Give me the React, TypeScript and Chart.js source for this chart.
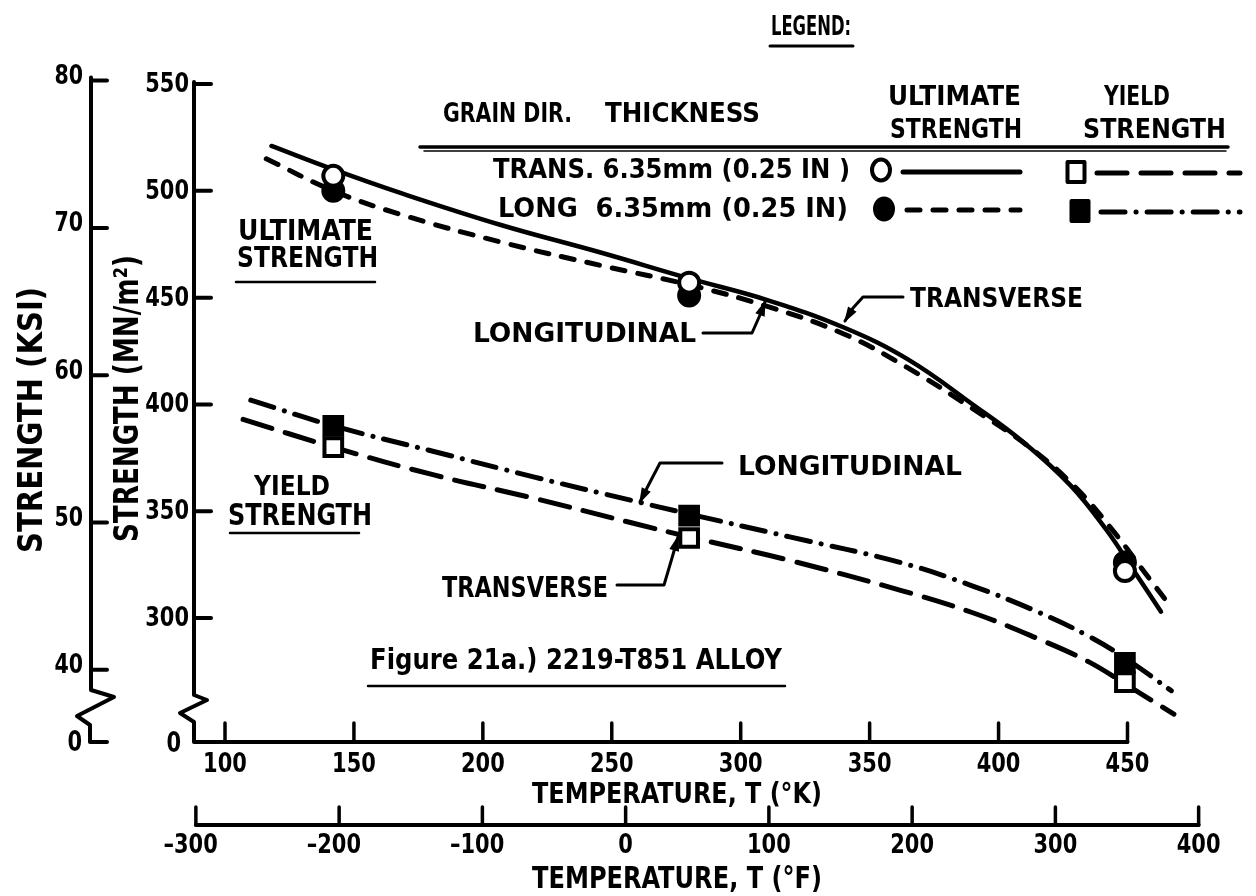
import React, { useEffect, useRef } from "react";
import { Chart, registerables } from "chart.js";
Chart.register(...registerables);

const FONT = '"DejaVu Sans Condensed", "DejaVu Sans", sans-serif';

// ---------- data (temperature in K, strength in MN/m^2) ----------
const markerTempK = [142, 280, 449];
const ultTransMarks = [507, 457, 322];
const ultLongMarks = [500, 451, 326];
const yieldTransMarks = [380, 337.5, 270];
const yieldLongMarks = [390, 348, 279];

const ultTransCurveK = [118, 142, 168, 207, 246, 280, 310, 340, 365, 390, 410, 428, 442, 452, 463];
const ultTransCurveV = [521, 510, 499, 484, 471, 459, 449, 436, 421, 400, 382, 362, 341, 323, 303];

const ultLongCurveK = [116, 142, 168, 207, 246, 280, 310, 340, 365, 390, 412, 430, 445, 455, 467];
const ultLongCurveV = [515, 500, 489, 476, 465, 456, 446, 433, 417, 398, 380, 361, 340, 324, 305];

const yieldLongCurveK = [110, 142, 181, 220, 258, 279, 319, 362, 390, 415, 435, 450, 467];
const yieldLongCurveV = [402, 390, 378, 366, 355, 349, 338, 326, 315, 303, 291.5, 280.5, 266];

const yieldTransCurveK = [107, 142, 181, 220, 258, 280, 319, 362, 390, 415, 435, 450, 468];
const yieldTransCurveV = [393, 380, 367, 356, 344.5, 338, 327, 313, 302.5, 290.5, 279.5, 268.5, 255];

const mnTicks = [300, 350, 400, 450, 500, 550];
const ksiTicks = [40, 50, 60, 70, 80];
const kTicks = [100, 150, 200, 250, 300, 350, 400, 450];
const fTicks = [-300, -200, -100, 0, 100, 200, 300, 400];

// unit conversions for the secondary axes
const fToK = (f: number) => (f - 32) / 1.8 + 273.15;
const ksiToMN = (k: number) => k * 6.894757;

// ---------- styles ----------
const DASH_ULT_LONG = [13, 13];
const DASH_YIELD_TRANS = [30, 14];
const DASH_YIELD_LONG = [24, 11, 0.1, 11];

function fit(ctx: CanvasRenderingContext2D, s: string, x0: number, x1: number, top: number, base: number) {
  const h = base - top;
  const size = h / 0.73;
  ctx.font = `bold ${size}px ${FONT}`;
  const w = ctx.measureText(s).width;
  ctx.save();
  ctx.translate(x0, base);
  ctx.scale((x1 - x0) / w, 1);
  ctx.textAlign = "left";
  ctx.textBaseline = "alphabetic";
  ctx.fillText(s, 0, 0);
  ctx.restore();
}

function num(ctx: CanvasRenderingContext2D, s: string, anchorX: number, cy: number, h: number, align: string, digitW: number) {
  const size = h / 0.73;
  ctx.font = `bold ${size}px ${FONT}`;
  const ref = ctx.measureText("000").width / 3;
  const sx = digitW / ref;
  const w = ctx.measureText(s).width * sx;
  const digits = s.replace("–", "");
  const dw = ctx.measureText(digits).width * sx;
  let x0 = anchorX;
  if (align === "right") x0 = anchorX - w;
  else if (align === "center") x0 = anchorX - dw / 2 - (w - dw);
  ctx.save();
  ctx.translate(x0, cy + h / 2);
  ctx.scale(sx, 1);
  ctx.textAlign = "left";
  ctx.textBaseline = "alphabetic";
  ctx.fillText(s, 0, 0);
  ctx.restore();
}

function line(ctx: CanvasRenderingContext2D, pts: number[][], w: number, dash: number[] = []) {
  ctx.save();
  ctx.lineWidth = w;
  ctx.setLineDash(dash);
  ctx.beginPath();
  pts.forEach((p, i) => (i ? ctx.lineTo(p[0], p[1]) : ctx.moveTo(p[0], p[1])));
  ctx.stroke();
  ctx.restore();
}

function arrow(ctx: CanvasRenderingContext2D, pts: number[][]) {
  line(ctx, pts, 3);
  const a = pts[pts.length - 2];
  const b = pts[pts.length - 1];
  const ang = Math.atan2(b[1] - a[1], b[0] - a[0]);
  const L = 14, W = 5;
  ctx.save();
  ctx.translate(b[0], b[1]);
  ctx.rotate(ang);
  ctx.beginPath();
  ctx.moveTo(2, 0);
  ctx.lineTo(-L, -W);
  ctx.lineTo(-L, W);
  ctx.closePath();
  ctx.fill();
  ctx.restore();
}

function marker(ctx: CanvasRenderingContext2D, kind: string, filled: boolean, x: number, y: number) {
  ctx.save();
  ctx.lineWidth = 4;
  ctx.fillStyle = filled ? "#000" : "#fff";
  ctx.beginPath();
  if (kind === "circle") ctx.ellipse(x, y, 9, 10.5, 0, 0, Math.PI * 2);
  else ctx.rect(x - 8.5, y - 10, 17, 20);
  ctx.fill();
  ctx.stroke();
  ctx.restore();
}

const decor = {
  id: "decor",
  afterDraw(chart: any) {
    const ctx: CanvasRenderingContext2D = chart.ctx;
    const { left, bottom } = chart.chartArea;
    const xs = chart.scales.x;
    const ys = chart.scales.y;
    const X = (v: number) => xs.getPixelForValue(v);
    const Y = (v: number) => ys.getPixelForValue(v);
    ctx.save();
    ctx.fillStyle = "#000";
    ctx.strokeStyle = "#000";
    ctx.lineCap = "round";
    ctx.lineJoin = "round";

    // ---- MN/m^2 axis + K axis ----
    const ax = left + 2;
    line(ctx, [
      [ax, Y(550) - 2], [ax, bottom - 47], [ax + 13, bottom - 42], [ax - 14, bottom - 29],
      [ax, bottom - 20], [ax, bottom], [X(450), bottom],
    ], 4);
    mnTicks.forEach((v) => {
      line(ctx, [[ax, Y(v)], [ax + 17, Y(v)]], 4);
      num(ctx, String(v), ax - 5, Y(v) - 2, 20, "right", 14.6);
    });
    num(ctx, "0", ax - 13, bottom - 1, 21, "right", 14.6);
    kTicks.forEach((k) => {
      line(ctx, [[X(k), bottom], [X(k), bottom - 19]], 3.5);
      num(ctx, String(k), X(k), bottom + 20, 20, "center", 14.6);
    });

    // ---- KSI axis ----
    const kx = 91;
    line(ctx, [
      [kx, Y(ksiToMN(80)) - 3], [kx, bottom - 52], [kx + 23, bottom - 45], [kx - 14, bottom - 26],
      [kx - 1, bottom - 17], [kx - 1, bottom], [kx + 16, bottom],
    ], 4);
    ksiTicks.forEach((v) => {
      line(ctx, [[kx, Y(ksiToMN(v))], [kx + 16, Y(ksiToMN(v))]], 4);
      num(ctx, String(v), kx - 8, Y(ksiToMN(v)) - 6, 19, "right", 14.3);
    });
    num(ctx, "0", kx - 9, bottom - 2, 21, "right", 14.6);

    // ---- °F axis ----
    const fy = bottom + 83;
    line(ctx, [[X(fToK(-300)), fy], [X(fToK(400)), fy]], 4);
    fTicks.forEach((f) => {
      line(ctx, [[X(fToK(f)), fy], [X(fToK(f)), fy - 18]], 3.5);
      num(ctx, f < 0 ? "–" + String(-f) : String(f), X(fToK(f)), fy + 18, 20, "center", 14.6);
    });

    // ---- axis titles ----
    fit(ctx, "TEMPERATURE, T (°K)", 532, 822, 782, 803);
    fit(ctx, "TEMPERATURE, T (°F)", 532, 822, 866, 888);
    ctx.save();
    ctx.translate(42, 553);
    ctx.rotate(-Math.PI / 2);
    fit(ctx, "STRENGTH (KSI)", 0, 553 - 287, -24, 0);
    ctx.restore();
    ctx.save();
    ctx.translate(138, 542);
    ctx.rotate(-Math.PI / 2);
    fit(ctx, "STRENGTH (MN/m²)", 0, 542 - 255, -25, 0);
    ctx.restore();

    // ---- legend ----
    fit(ctx, "LEGEND:", 771, 851, 15, 35);
    line(ctx, [[770, 46], [853, 46]], 3);
    fit(ctx, "GRAIN DIR.", 443, 572, 102, 122);
    fit(ctx, "THICKNESS", 605, 760, 102, 122);
    fit(ctx, "ULTIMATE", 888, 1021, 85, 105);
    fit(ctx, "STRENGTH", 890, 1022, 118, 138);
    fit(ctx, "YIELD", 1104, 1170, 85, 105);
    fit(ctx, "STRENGTH", 1083, 1226, 118, 138);
    line(ctx, [[420, 147], [1228, 147]], 3.5);
    line(ctx, [[424, 151], [1226, 151]], 1.5);
    fit(ctx, "TRANS. 6.35mm (0.25 IN )", 493, 850, 158, 178);
    fit(ctx, "LONG  6.35mm (0.25 IN)", 498, 848, 197, 217);
    marker(ctx, "circle", false, 881, 170);
    line(ctx, [[903, 172], [1020, 172]], 5);
    marker(ctx, "rect", false, 1076, 172);
    line(ctx, [[1097, 173], [1240, 173]], 5, DASH_YIELD_TRANS);
    marker(ctx, "circle", true, 884, 209);
    line(ctx, [[907, 210], [1020, 210]], 5, DASH_ULT_LONG);
    marker(ctx, "rect", true, 1080, 211);
    line(ctx, [[1101, 212], [1240, 212]], 5, DASH_YIELD_LONG);

    // ---- annotations ----
    fit(ctx, "ULTIMATE", 238, 373, 219, 240);
    fit(ctx, "STRENGTH", 237, 378, 246, 267);
    line(ctx, [[236, 282], [375, 282]], 2.5);
    fit(ctx, "YIELD", 254, 330, 475, 495);
    fit(ctx, "STRENGTH", 228, 372, 503, 525);
    line(ctx, [[230, 533], [359, 533]], 2.5);
    fit(ctx, "LONGITUDINAL", 473, 696, 322, 342);
    arrow(ctx, [[703, 333], [752, 333], [760, 315], [765, 302]]);
    fit(ctx, "TRANSVERSE", 910, 1083, 287, 307);
    arrow(ctx, [[903, 297], [863, 297], [853, 308], [845, 321]]);
    fit(ctx, "LONGITUDINAL", 738, 962, 455, 475);
    arrow(ctx, [[722, 463], [660, 463], [648, 486], [640, 502]]);
    fit(ctx, "TRANSVERSE", 442, 608, 576, 597);
    arrow(ctx, [[617, 585], [664, 585], [672, 558], [678, 537]]);
    fit(ctx, "Figure 21a.) 2219-T851 ALLOY", 370, 782, 648, 669);
    line(ctx, [[368, 686], [785, 686]], 2.5);

    ctx.restore();
  },
};

function curve(xv: number[], yv: number[], dash: number[], width: number) {
  return {
    type: "line",
    data: xv.map((x, i) => ({ x, y: yv[i] })),
    borderColor: "#000",
    borderWidth: width,
    borderDash: dash,
    borderCapStyle: "round",
    pointRadius: 0,
    fill: false,
    tension: 0.4,
    order: 3,
    clip: false,
  };
}

function marks(yv: number[], style: string, filled: boolean, order: number) {
  return {
    type: "scatter",
    data: markerTempK.map((x, i) => ({ x, y: yv[i] })),
    pointStyle: style,
    pointRadius: style === "rect" ? 12.5 : 10,
    pointBackgroundColor: filled ? "#000" : "#fff",
    pointBorderColor: "#000",
    pointBorderWidth: 4,
    showLine: false,
    order,
    clip: false,
  };
}

export default function App() {
  const ref = useRef<HTMLCanvasElement | null>(null);
  useEffect(() => {
    if (!ref.current) return;
    const chart = new Chart(ref.current, {
      type: "scatter",
      data: {
        datasets: [
          curve(ultTransCurveK, ultTransCurveV, [], 4.5),
          curve(ultLongCurveK, ultLongCurveV, DASH_ULT_LONG, 5),
          curve(yieldTransCurveK, yieldTransCurveV, DASH_YIELD_TRANS, 5),
          curve(yieldLongCurveK, yieldLongCurveV, DASH_YIELD_LONG, 5),
          marks(ultLongMarks, "circle", true, 2),
          marks(ultTransMarks, "circle", false, 1),
          marks(yieldLongMarks, "rect", true, 1),
          marks(yieldTransMarks, "rect", false, 2),
        ] as any,
      },
      options: {
        animation: false,
        responsive: false,
        events: [],
        layout: { padding: { left: 192, right: 46, top: 84, bottom: 154 } },
        plugins: { legend: { display: false }, tooltip: { enabled: false } },
        scales: {
          x: { type: "linear", min: 87.2, max: 482, display: false },
          y: { type: "linear", min: 242, max: 550, display: false },
        },
      },
      plugins: [decor as any],
    });
    return () => chart.destroy();
  }, []);
  return (
    <div style={{ position: "absolute", left: 0, top: 0, width: 1256, height: 896, background: "#fff" }}>
      <canvas ref={ref} width={1256} height={896} style={{ display: "block" }} />
    </div>
  );
}
